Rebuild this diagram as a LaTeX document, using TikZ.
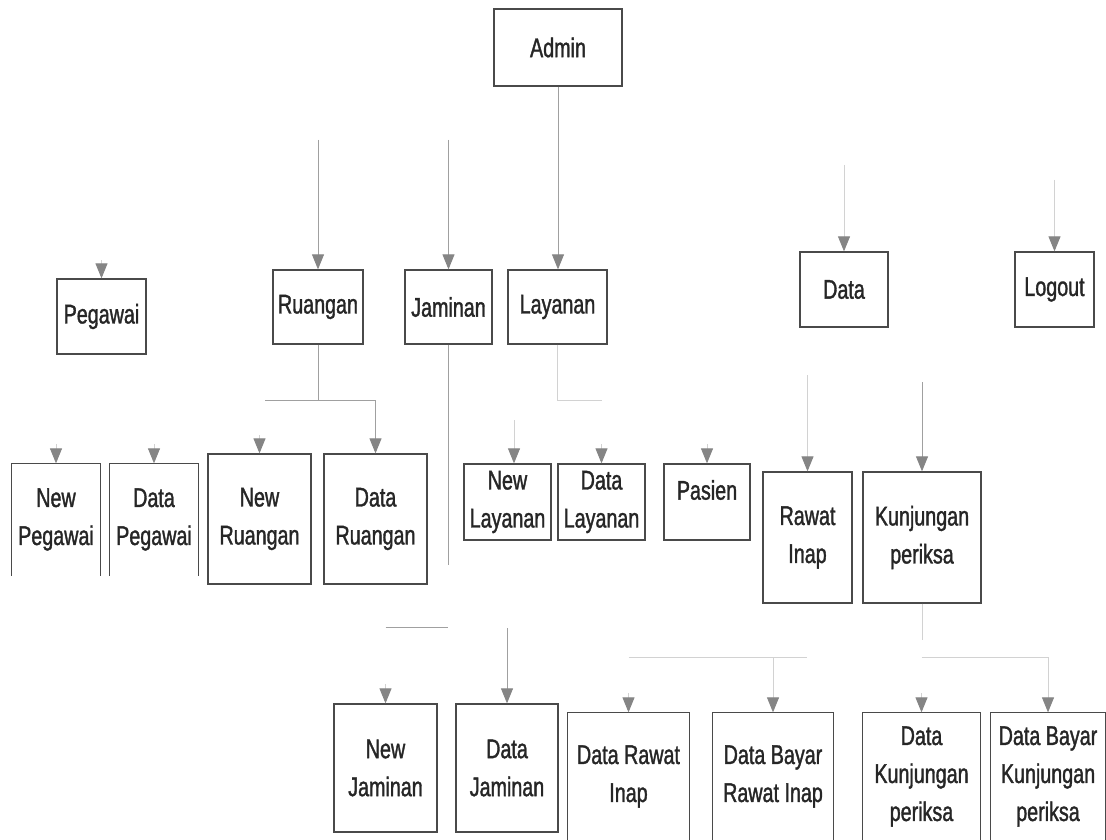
\documentclass[tikz,border=0pt]{standalone}
\usepackage{fontspec}
\setmainfont{Liberation Sans}[FakeStretch=0.73,UprightFeatures={FakeBold=1.3}]
\usetikzlibrary{arrows.meta}
\definecolor{boxc}{HTML}{4A4A4A}
\definecolor{lineA}{HTML}{A0A0A0}
\definecolor{lineB}{HTML}{D2D2D2}
\definecolor{arrc}{HTML}{858585}
\definecolor{txtc}{HTML}{262626}
\begin{document}
\begin{tikzpicture}[x=1pt,y=-1pt,
  box/.style={draw=boxc, line width=1.3pt, inner sep=0pt, align=center, text=txtc,
              font=\fontsize{27}{38}\selectfont},
  obox/.style={box, draw=none},
  side/.style={draw=boxc, line width=1.3pt},
  conA/.style={draw=lineA, line width=0.9pt},
  conB/.style={draw=lineB, line width=0.9pt},
  tip/.style={-{Triangle[width=12pt,length=15pt,color=arrc]}},
]
\useasboundingbox (0,0) rectangle (1106,840);
\fill[white] (0,0) rectangle (1106,840);

% ---- level 0 / 1
\node[box, minimum width=128pt, minimum height=77pt] (adm) at (558,47.5) {Admin};
\node[box, minimum width=89pt, minimum height=75pt] (peg) at (101.5,316.5) {Pegawai};
\node[box, minimum width=90pt, minimum height=74pt] (rua) at (318,307) {Ruangan};
\node[box, minimum width=87pt, minimum height=74pt] (jam) at (448.5,307) {Jaminan};
\node[box, minimum width=99pt, minimum height=74pt] (lay) at (557.5,307) {Layanan};
\node[box, minimum width=88pt, minimum height=75pt] (data) at (844,289.5) {Data};
\node[box, minimum width=79pt, minimum height=75pt] (logout) at (1054.5,289.5) {Logout};

% ---- level 2
\node[obox, minimum width=88pt, minimum height=111pt] (npeg) at (56,519.5) {New\\Pegawai};
\draw[side] (npeg.south west) -- (npeg.north west) -- (npeg.north east) -- (npeg.south east);
\node[obox, minimum width=88pt, minimum height=111pt] (dpeg) at (154,519.5) {Data\\Pegawai};
\draw[side] (dpeg.south west) -- (dpeg.north west) -- (dpeg.north east) -- (dpeg.south east);
\node[box, minimum width=103pt, minimum height=130pt] (nrua) at (259.5,519) {New\\Ruangan};
\node[box, minimum width=103pt, minimum height=130pt] (drua) at (375.5,519) {Data\\Ruangan};
\node[box, minimum width=87pt, minimum height=76pt] (nlay) at (507.5,502) {New\\Layanan};
\node[box, minimum width=87pt, minimum height=76pt] (dlay) at (601.5,502) {Data\\Layanan};
\node[box, minimum width=86pt, minimum height=76pt] (pas) at (707,502) {};
\node[obox] (pasT) at (707,490) {Pasien};
\node[box, minimum width=89pt, minimum height=131pt] (rawat) at (807.5,537.5) {Rawat\\Inap};
\node[box, minimum width=118pt, minimum height=131pt] (kun) at (922,537.5) {Kunjungan\\periksa};

% ---- level 3
\node[box, minimum width=103pt, minimum height=128pt] (njam) at (385.5,768) {New\\Jaminan};
\node[box, minimum width=102pt, minimum height=128pt] (djam) at (507,768) {Data\\Jaminan};
\node[obox, minimum width=121pt, minimum height=127pt] (drawat) at (628.5,776.5) {Data Rawat\\Inap};
\draw[side] (drawat.south west) -- (drawat.north west) -- (drawat.north east) -- (drawat.south east);
\node[obox, minimum width=120pt, minimum height=127pt] (dbrawat) at (773,776.5) {Data Bayar\\Rawat Inap};
\draw[side] (dbrawat.south west) -- (dbrawat.north west) -- (dbrawat.north east) -- (dbrawat.south east);
\node[obox, minimum width=117pt, minimum height=127pt] (dkun) at (921.5,776.5) {Data\\Kunjungan\\periksa};
\draw[side] (dkun.south west) -- (dkun.north west) -- (dkun.north east) -- (dkun.south east);
\node[obox, minimum width=114pt, minimum height=127pt] (dbkun) at (1048,776.5) {Data Bayar\\Kunjungan\\periksa};
\draw[side] (dbkun.south west) -- (dbkun.north west) -- (dbkun.north east) -- (dbkun.south east);

% ---- connectors, level 1
\draw[conA, tip] (adm.south) -- (adm.south |- lay.north);
\coordinate (ruaIn) at (318,140);
\draw[conA, tip] (ruaIn) -- (rua.north);
\coordinate (jamIn) at (448.5,140);
\draw[conA, tip] (jamIn) -- (jam.north);
\coordinate (pegIn) at (101.5,260);
\draw[conB, tip] (pegIn) -- (peg.north);
\coordinate (dataIn) at (844,165);
\draw[conB, tip] (dataIn) -- (data.north);
\coordinate (logIn) at (1054.5,180);
\draw[conB, tip] (logIn) -- (logout.north);

% ---- connectors, level 2
\coordinate (ruaJ) at (318,400);
\coordinate (ruaL) at (265,400);
\coordinate (ruaR) at (375.5,400);
\draw[conA] (rua.south) -- (ruaJ);
\draw[conA] (ruaL) -- (ruaR);
\draw[conA, tip] (ruaR) -- (drua.north);
\coordinate (nruaIn) at (259.5,435);
\draw[conB, tip] (nruaIn) -- (nrua.north);
\coordinate (npegIn) at (56,444);
\draw[conB, tip] (npegIn) -- (npeg.north);
\coordinate (dpegIn) at (154,444);
\draw[conB, tip] (dpegIn) -- (dpeg.north);

\coordinate (jamEnd) at (448.5,565);
\draw[conA] (jam.south) -- (jamEnd);

\coordinate (layJ) at (557.5,400);
\coordinate (layR) at (602,400);
\draw[conB] (lay.south) -- (layJ) -- (layR);
\coordinate (nlayIn) at (514,420);
\draw[conB, tip] (nlayIn) -- (nlayIn |- nlay.north);
\coordinate (dlayIn) at (601.5,444);
\draw[conB, tip] (dlayIn) -- (dlay.north);
\coordinate (pasIn) at (707,444);
\draw[conB, tip] (pasIn) -- (pas.north);
\coordinate (rawIn) at (807.5,375);
\draw[conB, tip] (rawIn) -- (rawat.north);
\coordinate (kunIn) at (922,382);
\draw[conA, tip] (kunIn) -- (kun.north);

% ---- connectors, level 3
\coordinate (njL) at (385.5,627);
\coordinate (njR) at (448,627);
\draw[conA] (njL) -- (njR);
\coordinate (njamIn) at (385.5,684);
\draw[conB, tip] (njamIn) -- (njam.north);
\coordinate (djamIn) at (507,628);
\draw[conA, tip] (djamIn) -- (djam.north);

\coordinate (rrL) at (628.5,657);
\coordinate (rrR) at (807,657);
\coordinate (rrD) at (773,657);
\draw[conB] (rrL) -- (rrR);
\draw[conB, tip] (rrD) -- (dbrawat.north);
\coordinate (drawIn) at (628.5,693);
\draw[conB, tip] (drawIn) -- (drawat.north);

\coordinate (kunD) at (922,640);
\draw[conB] (kun.south) -- (kunD);
\coordinate (kkL) at (921.5,657);
\coordinate (kkR) at (1048,657);
\draw[conB] (kkL) -- (kkR);
\draw[conB, tip] (kkR) -- (dbkun.north);
\coordinate (dkunIn) at (921.5,693);
\draw[conB, tip] (dkunIn) -- (dkun.north);
\end{tikzpicture}
\end{document}
